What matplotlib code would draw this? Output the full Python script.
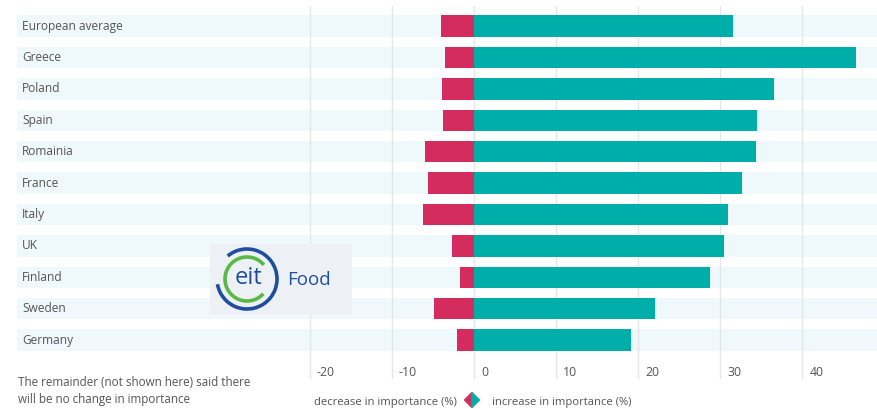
import matplotlib
matplotlib.use("Agg")
import matplotlib.pyplot as plt
from matplotlib.patches import Arc, Polygon, Rectangle
import numpy as np

plt.rcParams['font.family'] = ['Open Sans', 'DejaVu Sans']

countries = ["European average", "Greece", "Poland", "Spain", "Romainia",
             "France", "Italy", "UK", "Finland", "Sweden", "Germany"]
decrease = [-4.0, -3.5, -3.9, -3.8, -6.0, -5.6, -6.2, -2.7, -1.7, -4.9, -2.1]
increase = [31.6, 46.5, 36.6, 34.5, 34.3, 32.6, 30.9, 30.5, 28.8, 22.1, 19.1]
ticks = [-20, -10, 0, 10, 20, 30, 40]

PINK = "#d42c5e"
TEAL = "#00aea9"
BAND = "#eff8fa"
GRID = "#e4e6e8"
TEXT = "#555555"
BLUE = "#1f4e9e"

W, H = 877, 409
fig = plt.figure(figsize=(W / 100, H / 100), dpi=100)


def px(x0, y0, w, h):
    """pixel box (top-left origin) -> figure fraction rect"""
    return [x0 / W, (H - y0 - h) / H, w / W, h / H]


ax = fig.add_axes(px(17, 6, 860, 373))
ax.set_xlim(-55.7, 49.1)
ax.set_ylim(11.24, -0.64)
ax.axis("off")

y = np.arange(len(countries))
bh = 0.68
# background bands
ax.barh(y, 49.1 + 55.7, left=-55.7, height=bh, color=BAND, zorder=0)
# grid lines + tick labels
for t in ticks:
    ax.axvline(t, color=GRID, lw=1, zorder=1)
    ax.annotate(str(t), xy=(t, 11.02), xytext=(5, 0),
                textcoords="offset points", ha="left", va="center",
                fontsize=8.8, color=TEXT)
ax.barh(y, decrease, height=bh, color=PINK, zorder=2)
ax.barh(y, increase, height=bh, color=TEAL, zorder=2)
for yi, name in zip(y, countries):
    ax.text(-55.1, yi, name, ha="left", va="center", fontsize=8.6,
            color=TEXT)

# footnote
fig.text(18 / W, 1 - 383 / H, "The remainder (not shown here) said there",
         fontsize=8.4, color=TEXT, va="center")
fig.text(18 / W, 1 - 400 / H, "will be no change in importance",
         fontsize=8.4, color=TEXT, va="center")

# legend
fig.text(457 / W, 1 - 403 / H, "decrease in importance (%)", fontsize=8.1,
         color=TEXT, va="center", ha="right")
fig.text(492 / W, 1 - 403 / H, "increase in importance (%)", fontsize=8.1,
         color=TEXT, va="center", ha="left")
lg = fig.add_axes(px(464, 392, 16, 16))
lg.set_xlim(0, 16)
lg.set_ylim(0, 16)
lg.axis("off")
lg.add_patch(Polygon([(8, 15.5), (0.5, 8), (8, 0.5)], closed=True,
                     color=PINK))
lg.add_patch(Polygon([(8, 15.5), (15.5, 8), (8, 0.5)], closed=True,
                     color=TEAL))

# logo
lo = fig.add_axes(px(210, 244, 142, 71))
lo.set_xlim(0, 142)
lo.set_ylim(0, 71)
lo.axis("off")
lo.add_patch(Rectangle((0, 0), 142, 71, color="#edf1f6"))
cx, cy = 37, 36
lo.add_patch(Arc((cx, cy), 60, 60, theta1=-170, theta2=130,
                 color=BLUE, lw=2.6))
lo.add_patch(Arc((cx, cy), 44, 44, theta1=40, theta2=318,
                 color="#5ab946", lw=2.6))
lo.text(cx + 1, cy + 1, "eit", ha="center", va="center", fontsize=17,
        color=BLUE)
lo.text(77, 35, "Food", ha="left", va="center", fontsize=13.5,
        color=BLUE)

fig.savefig("out.png", dpi=100)
